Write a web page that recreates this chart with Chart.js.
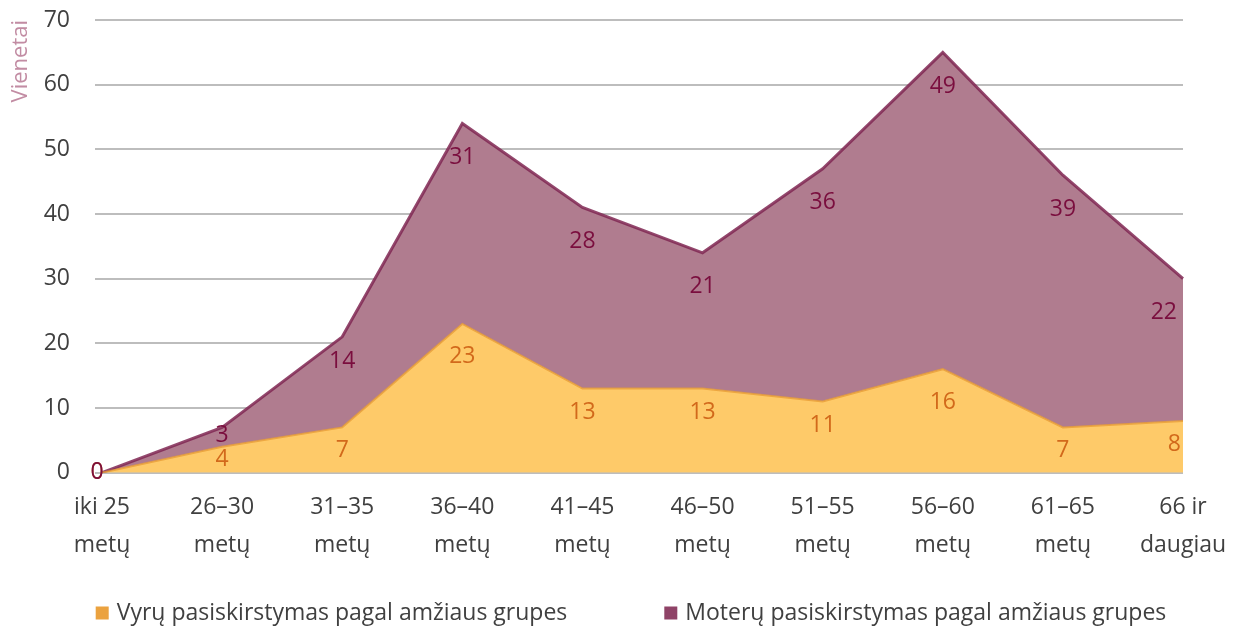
<!DOCTYPE html>
<html>
<head>
<meta charset="utf-8">
<script src="https://cdn.jsdelivr.net/npm/chart.js@4.4.0/dist/chart.umd.min.js"></script>
<style>
  html, body { margin: 0; padding: 0; background: #fff; }
  #wrap { width: 1237px; height: 628px; }
</style>
</head>
<body>
<div id="wrap">
  <canvas id="areaChart" width="1237" height="628"></canvas>
</div>
<script>
    var ageGroups = [
        ['iki 25', 'metų'],
        ['26–30', 'metų'],
        ['31–35', 'metų'],
        ['36–40', 'metų'],
        ['41–45', 'metų'],
        ['46–50', 'metų'],
        ['51–55', 'metų'],
        ['56–60', 'metų'],
        ['61–65', 'metų'],
        ['66 ir', 'daugiau']
    ];
    var menValues = [0, 4, 7, 23, 13, 13, 11, 16, 7, 8];
    var womenValues = [0, 3, 14, 31, 28, 21, 36, 49, 39, 22];
    var yTicks = [0, 10, 20, 30, 40, 50, 60, 70];

    var FONT = '"Open Sans", "Noto Sans", sans-serif';

    // skaičiai ant plotų
    var valueLabels = {
        id: 'valueLabels',
        afterDatasetsDraw: function (chart) {
            var ctx = chart.ctx;
            var zeroY = chart.scales.y.getPixelForValue(0);
            ctx.save();
            ctx.font = '23px ' + FONT;
            ctx.textBaseline = 'middle';
            chart.data.datasets.forEach(function (ds, i) {
                var meta = chart.getDatasetMeta(i);
                var n = meta.data.length;
                meta.data.forEach(function (pt, j) {
                    var dist = zeroY - pt.y;
                    var off = ds.labelOffset;
                    // smailėse skaičius nuslenka žemiau
                    if (j > 0 && j < n - 1 && pt.y < meta.data[j - 1].y && pt.y < meta.data[j + 1].y) off += ds.peakExtra;
                    off = Math.min(off, dist * ds.labelFrac);
                    var x = pt.x;
                    ctx.textAlign = 'center';
                    if (j === 0) x -= 5;
                    if (j === n - 1) { ctx.textAlign = 'right'; x -= ds.labelEndShift; }
                    ctx.fillStyle = ds.labelColor;
                    ctx.fillText(ds.data[j], x, pt.y + off);
                });
            });
            ctx.restore();
        }
    };

    // legenda apačioje
    var bottomLegend = {
        id: 'bottomLegend',
        afterDraw: function (chart) {
            var ctx = chart.ctx;
            ctx.save();
            ctx.font = '23px ' + FONT;
            ctx.textBaseline = 'middle';
            ctx.textAlign = 'left';
            var box = 13, gapText = 8, gapItem = 97;
            var items = chart.data.datasets.map(function (ds) {
                return { text: ds.label, color: ds.legendColor, w: box + gapText + ctx.measureText(ds.label).width };
            });
            var total = items.reduce(function (a, it) { return a + it.w; }, 0) + gapItem * (items.length - 1);
            var x = 631 - total / 2;
            var y = 613;
            items.forEach(function (it) {
                ctx.fillStyle = it.color;
                ctx.fillRect(x, y - box / 2, box, box);
                ctx.fillStyle = '#404040';
                ctx.fillText(it.text, x + box + gapText, y);
                x += it.w + gapItem;
            });
            ctx.restore();
        }
    };

    function noVertPadding(scale) {
        scale.paddingTop = 0;
        scale.paddingBottom = 0;
    }

    var chart = new Chart('areaChart', {
        type: 'line',
        data: {
            labels: ageGroups,
            datasets: [{
                label: 'Vyrų pasiskirstymas pagal amžiaus grupes',
                data: menValues,
                backgroundColor: '#FECA69',
                borderColor: 'rgba(232, 158, 52, 0.8)',
                borderWidth: 2,
                fill: 'origin',
                pointRadius: 0,
                tension: 0,
                labelColor: '#D2691B',
                legendColor: '#EBA23F',
                labelOffset: 24,
                peakExtra: 9,
                labelFrac: 0.5,
                labelEndShift: 2
            }, {
                label: 'Moterų pasiskirstymas pagal amžiaus grupes',
                data: womenValues,
                backgroundColor: '#B07C8F',
                borderColor: 'rgba(128, 40, 84, 0.85)',
                borderWidth: 3,
                fill: '-1',
                pointRadius: 0,
                tension: 0,
                labelColor: '#7A0E3E',
                legendColor: '#8F4367',
                labelOffset: 34,
                peakExtra: 0,
                labelFrac: 0.18,
                labelEndShift: 6
            }]
        },
        options: {
            responsive: false,
            animation: false,
            layout: { autoPadding: false, padding: { left: 0, right: 54, top: 20, bottom: 55 } },
            plugins: {
                legend: { display: false },
                tooltip: { enabled: false }
            },
            scales: {
                x: {
                    offset: false,
                    afterFit: noVertPadding,
                    grid: { display: false },
                    border: { display: false },
                    ticks: {
                        color: '#404040',
                        font: { family: FONT, size: 23, lineHeight: 1.66 },
                        padding: 8,
                        maxRotation: 0,
                        autoSkip: false
                    }
                },
                y: {
                    stacked: true,
                    min: 0,
                    max: 70,
                    afterFit: function (scale) {
                        scale.width = 102;
                        noVertPadding(scale);
                    },
                    afterBuildTicks: function (scale) {
                        scale.ticks = yTicks.map(function (v) { return { value: v }; });
                    },
                    grid: { color: '#BDBDBD', lineWidth: 2, drawTicks: true, tickLength: 7 },
                    border: { display: false },
                    ticks: {
                        color: '#404040',
                        font: { family: FONT, size: 23 },
                        padding: 25
                    },
                    title: {
                        display: true,
                        text: 'Vienetai',
                        align: 'end',
                        color: '#C28CA3',
                        font: { family: FONT, size: 22 },
                        padding: { top: 8, bottom: 0 }
                    }
                }
            }
        },
        plugins: [valueLabels, bottomLegend]
    });
</script>
</body>
</html>
